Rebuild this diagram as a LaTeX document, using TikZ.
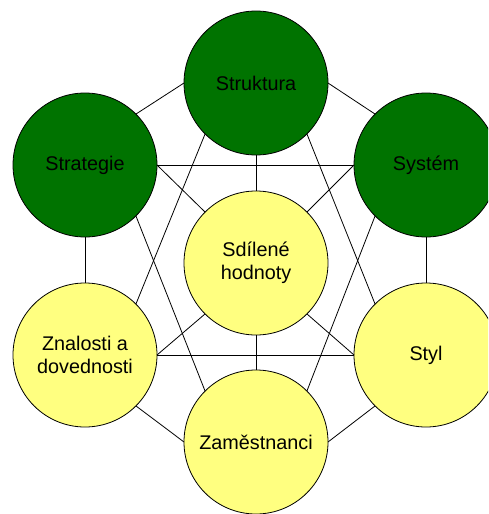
\documentclass[tikz,border=0pt]{standalone}
\usepackage{fontspec}
\setmainfont{Liberation Sans}
\definecolor{dkgreen}{RGB}{0,115,0}
\definecolor{ltyellow}{RGB}{255,255,128}
\begin{document}
\begin{tikzpicture}[x=1pt,y=-1pt,
  circ/.style={circle,draw=black,line width=0.8pt,minimum size=144pt,inner sep=0pt,outer sep=0pt,
    font=\fontsize{19.8}{22.5}\selectfont,align=center,text=black},
  grn/.style={circ,fill=dkgreen},
  ylw/.style={circ,fill=ltyellow},
  link/.style={draw=black,line width=0.8pt}]
\useasboundingbox (0,0) rectangle (488,514);
\clip (0,0) rectangle (488,514);
\node[grn] (str) at (256,83) {Struktura};
\node[grn] (stg) at (85,165) {Strategie};
\node[grn] (sys) at (426,165) {Systém};
\node[ylw] (sdi) at (256,263) {Sdílené\\hodnoty};
\node[ylw] (zna) at (85,355) {Znalosti a\\dovednosti};
\node[ylw] (sty) at (426,355) {Styl};
\node[ylw] (zam) at (256,442) {Zaměstnanci};
\path[link] (str.180) -- (stg.45);
\path[link] (str.0) -- (sys.135);
\path[link] (str.270) -- (sdi.90);
\path[link] (str.225) -- (zna.45);
\path[link] (str.315) -- (sty.135);
\path[link] (stg.0) -- (sys.180);
\path[link] (stg.0) -- (sdi.135);
\path[link] (stg.315) -- (zam.135);
\path[link] (stg.270) -- (zna.90);
\path[link] (sys.180) -- (sdi.45);
\path[link] (sys.225) -- (zam.45);
\path[link] (sys.270) -- (sty.90);
\path[link] (sdi.225) -- (zna.0);
\path[link] (sdi.315) -- (sty.180);
\path[link] (sdi.270) -- (zam.90);
\path[link] (zna.0) -- (sty.180);
\path[link] (zna.315) -- (zam.180);
\path[link] (sty.225) -- (zam.0);
\end{tikzpicture}
\end{document}
